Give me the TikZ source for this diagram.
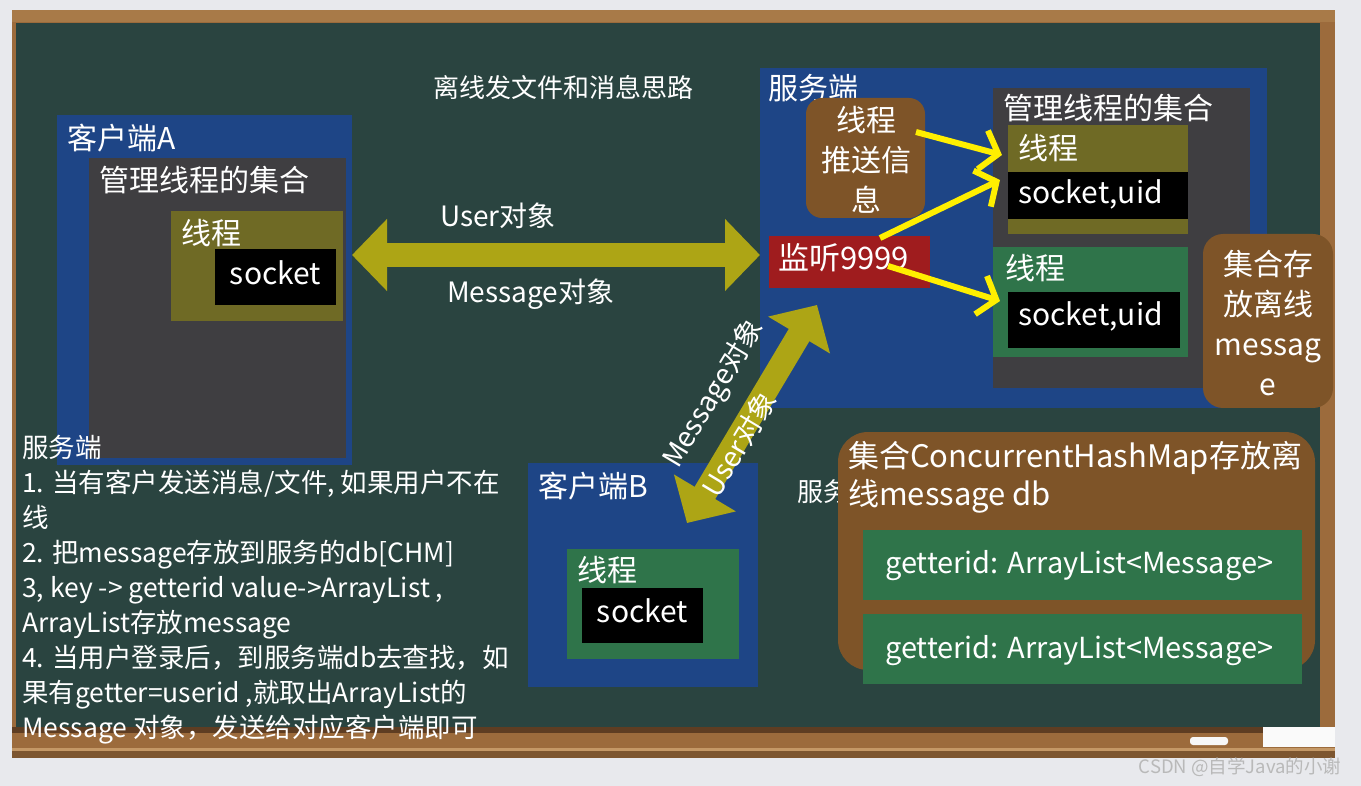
\documentclass[tikz,border=0pt]{standalone}
\usepackage{fontspec}
\setmainfont{Noto Sans CJK SC}
\usetikzlibrary{arrows.meta}
\definecolor{bgout}{HTML}{E8E9ED}
\definecolor{board}{HTML}{2A4440}
\definecolor{wood}{HTML}{9C6B3C}
\definecolor{woodtop}{HTML}{A87A48}
\definecolor{wooddark}{HTML}{5E3D22}
\definecolor{woodlight}{HTML}{C49866}
\definecolor{cblue}{HTML}{1E4586}
\definecolor{cgray}{HTML}{3F3E41}
\definecolor{colive}{HTML}{6F6A25}
\definecolor{carrow}{HTML}{ADA515}
\definecolor{cgreen}{HTML}{2F744A}
\definecolor{cbrown}{HTML}{7E5428}
\definecolor{cred}{HTML}{9F1C1E}
\definecolor{cyellow}{HTML}{FFEF00}
\begin{document}
\begin{tikzpicture}[x=1pt,y=-1pt,
  box/.style={anchor=north west, inner sep=0pt, outer sep=0pt},
  rbox/.style={box, rounded corners=16pt},
  lab/.style={text=white, inner sep=0pt, anchor=west, font=\fontsize{30}{36}\selectfont},
  labm/.style={lab, font=\fontsize{28}{34}\selectfont},
  labs/.style={lab, font=\fontsize{26}{32}\selectfont},
  ctext/.style={text=white, inner sep=0pt, align=center, font=\fontsize{30}{40}\selectfont},
  bigarrow/.style={draw=carrow, line width=24pt,
    {Triangle[length=35pt,width=70pt]}-{Triangle[length=35pt,width=70pt]}},
  yarrow/.style={draw=cyellow, line width=6pt,
    -{Straight Barb[length=16pt,width=40pt,line width=6pt]}}]
\useasboundingbox (0,0) rectangle (1361,786);
% background and board
\fill[bgout] (0,0) rectangle (1361,786);
\fill[wood] (12,10) rectangle (1335,758);
\fill[woodtop] (12,10) rectangle (1335,22);
\fill[board] (16,23) rectangle (1320,727);
\fill[wooddark] (12,727) rectangle (1335,733);
\fill[wood] (12,733) rectangle (1335,748);
\fill[woodlight] (12,748) rectangle (1335,751);
\fill[wood!80!black] (12,751) rectangle (1335,758);
\fill[white!94!gray, rounded corners=3pt] (1190,737) rectangle (1228,745);
\fill[white!96!gray] (1263,727) rectangle (1335,747);
\node[text=gray!55, inner sep=0pt, font=\fontsize{18.5}{18.5}\selectfont] (wm) at (1240,767) {CSDN @自学Java的小谢};

% title
\node[labs] (title) at (433,88) {离线发文件和消息思路};

% client A
\node[box, fill=cblue, minimum width=295pt, minimum height=350pt] (cA) at (57,115) {};
\node[lab] (cAl) at (67,138) {客户端A};
\node[box, fill=cgray, minimum width=257pt, minimum height=300pt] (cAg) at (89,158) {};
\node[lab] (cAgl) at (99,180) {管理线程的集合};
\node[box, fill=colive, minimum width=172pt, minimum height=110pt] (cAt) at (171,211) {};
\node[lab] (cAtl) at (181,233) {线程};
\node[box, fill=black, minimum width=121pt, minimum height=56pt] (cAs) at (215,249) {};
\node[lab, anchor=center] (cAsl) at ([yshift=4pt]cAs.center) {socket};

% server
\node[box, fill=cblue, minimum width=507pt, minimum height=340pt] (srv) at (760,68) {};
\node[lab] (srvl) at (768,88) {服务端};
\node[rbox, fill=cbrown, minimum width=119pt, minimum height=120pt] (push) at (806,98) {};
\node[ctext] (pushl) at (866,160) {线程\\推送信\\息};
\node[box, fill=cred, minimum width=161pt, minimum height=52pt] (lis) at (769,236) {};
\node[lab, font=\fontsize{31}{36}\selectfont] (lisl) at (778,258) {监听9999};
\node[box, fill=cgray, minimum width=257pt, minimum height=300pt] (srvg) at (993,88) {};
\node[lab] (srvgl) at (1003,108) {管理线程的集合};
\node[box, fill=colive, minimum width=180pt, minimum height=109pt] (th1) at (1008,125) {};
\node[lab] (th1l) at (1018,148) {线程};
\node[box, fill=black, minimum width=180pt, minimum height=47pt] (s1) at (1008,172) {};
\node[lab] (s1l) at (1018,194) {socket,uid};
\node[box, fill=cgreen, minimum width=195pt, minimum height=110pt] (th2) at (993,247) {};
\node[lab] (th2l) at (1005,268) {线程};
\node[box, fill=black, minimum width=172pt, minimum height=56pt] (s2) at (1008,292) {};
\node[lab] (s2l) at (1018,316) {socket,uid};
\node[rbox, rounded corners=20pt, fill=cbrown, minimum width=130pt, minimum height=174pt] (store) at (1203,234) {};
\node[ctext] (storel) at (1268,323) {集合存\\放离线\\messag\\e};

% yellow arrows
\coordinate (y1a) at (916,132);
\coordinate (y1b) at (1002,155);
\coordinate (y2a) at (880,238);
\coordinate (y2b) at (1000,180);
\coordinate (y3a) at (888,266);
\coordinate (y3b) at (1000,301);
\draw[yarrow] (y1a) -- (y1b);
\draw[yarrow] (y2a) -- (y2b);
\draw[yarrow] (y3a) -- (y3b);

% client B
\node[box, fill=cblue, minimum width=230pt, minimum height=224pt] (cB) at (528,463) {};
\node[lab] (cBl) at (538,486) {客户端B};
\node[box, fill=cgreen, minimum width=172pt, minimum height=110pt] (cBt) at (567,549) {};
\node[lab] (cBtl) at (577,570) {线程};
\node[box, fill=black, minimum width=121pt, minimum height=55pt] (cBs) at (582,588) {};
\node[lab, anchor=center] (cBsl) at ([yshift=5pt]cBs.center) {socket};

% big arrows
\coordinate (hy) at (0,255);
\draw[bigarrow] (cA.east |- hy) -- (srv.west |- hy);
\node[labm] (userl) at (440,216) {User对象};
\node[labm] (msgl) at (447,294) {Message对象};
\coordinate (dA) at (687,523);
\coordinate (dB) at (817,305);
\draw[bigarrow] (dA) -- (dB);
\node[labm, anchor=center, rotate=59] (msgd) at (714,394) {Message对象};
\node[labm, anchor=center, rotate=59] (userd) at (739,444) {User对象};

% partially hidden label and db box
\node[labs] (srvp) at (797,492) {服务端};
\node[rbox, rounded corners=30pt, fill=cbrown, minimum width=477pt, minimum height=238pt] (db) at (838,432) {};
\node[lab, font=\fontsize{31}{36}\selectfont] (dbl1) at (848,458) {集合ConcurrentHashMap存放离};
\node[lab, font=\fontsize{31}{36}\selectfont] (dbl2) at (848,496) {线message db};
\node[box, fill=cgreen, minimum width=439pt, minimum height=70pt] (r1) at (863,530) {};
\node[lab, font=\fontsize{29}{34}\selectfont] (r1l) at (885,566) {getterid: ArrayList<Message>};
\node[box, fill=cgreen, minimum width=439pt, minimum height=70pt] (r2) at (863,614) {};
\node[lab, font=\fontsize{29}{34}\selectfont] (r2l) at (885,651) {getterid: ArrayList<Message>};

% left notes
\node[text=white, inner sep=0pt, anchor=base west, align=left,
  font=\fontsize{26.5}{35}\selectfont] (notes) at (22,737)
  {服务端\\
   1. 当有客户发送消息/文件, 如果用户不在\\
   线\\
   2. 把message存放到服务的db[CHM]\\
   3, key -> getterid value->ArrayList ,\\
   ArrayList存放message\\
   4. 当用户登录后，到服务端db去查找，如\\
   果有getter=userid ,就取出ArrayList的\\
   Message 对象，发送给对应客户端即可};
\end{tikzpicture}
\end{document}
